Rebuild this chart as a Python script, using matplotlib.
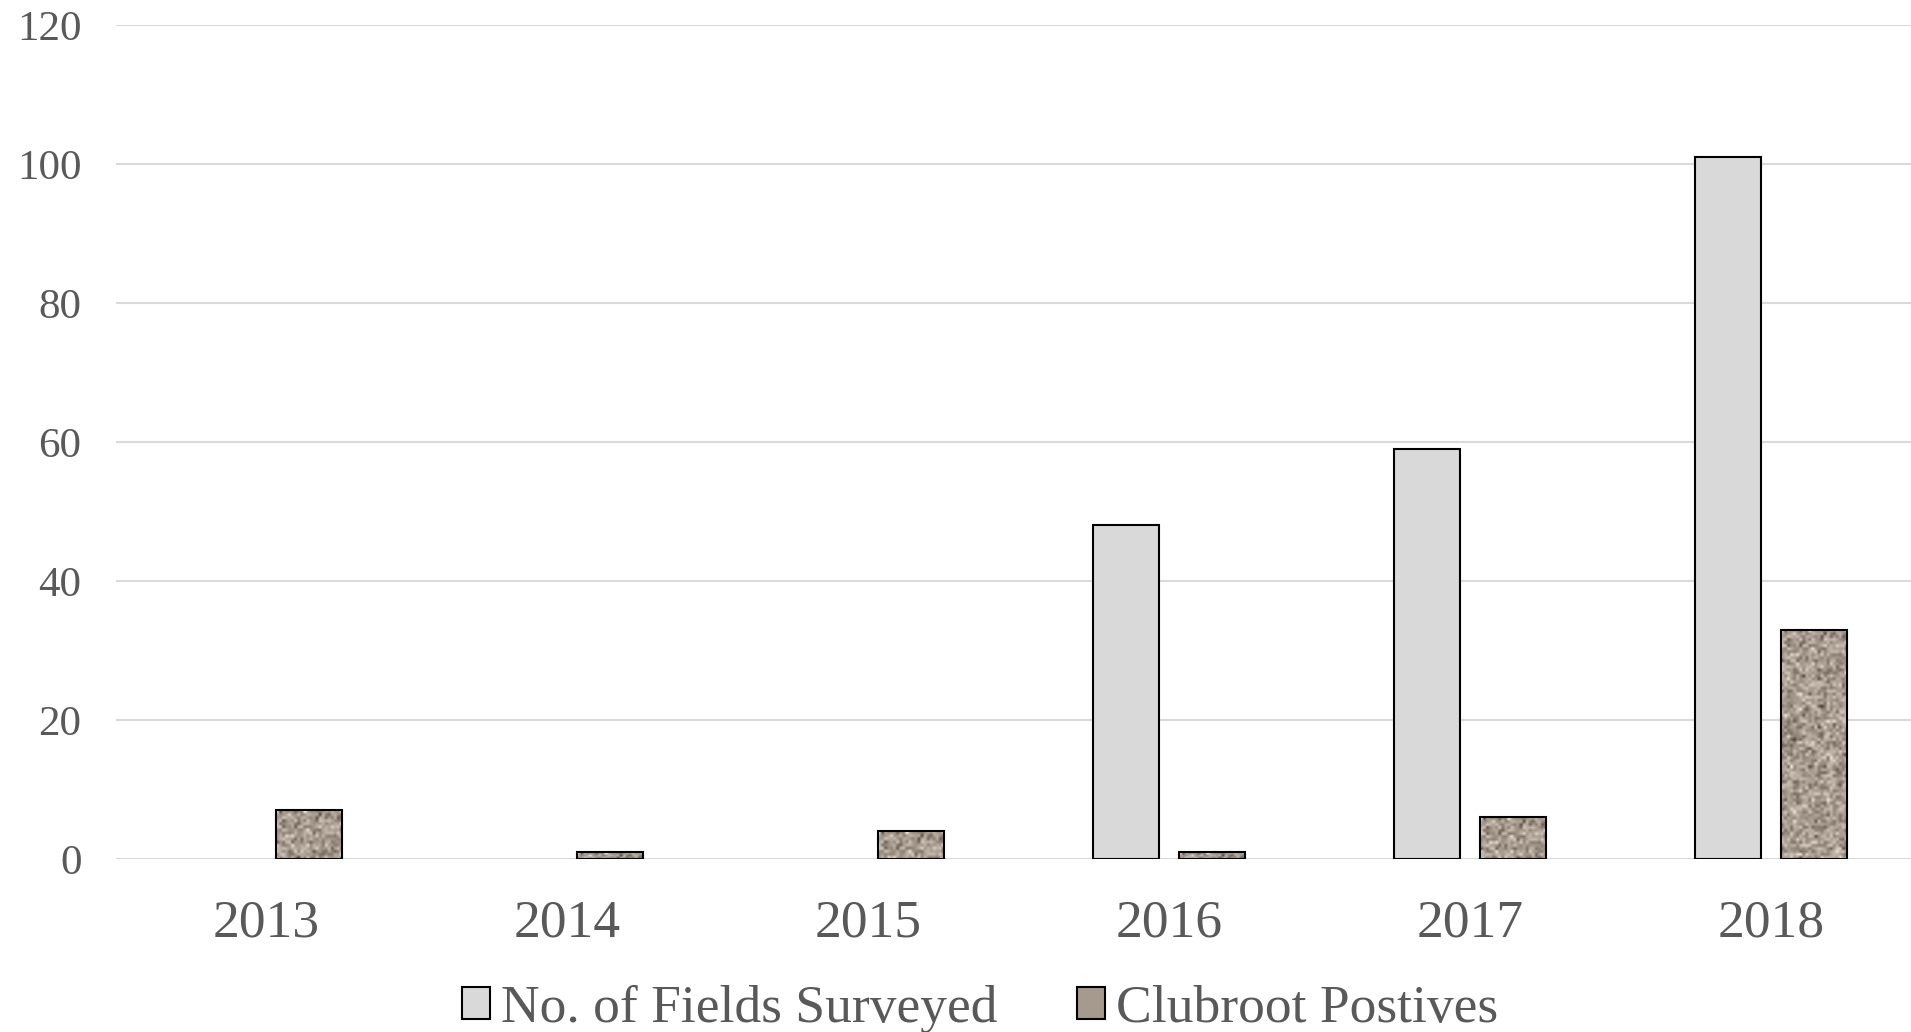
import numpy as np
import matplotlib
matplotlib.use("Agg")
import matplotlib.pyplot as plt
from matplotlib.patches import Patch

years = ["2013", "2014", "2015", "2016", "2017", "2018"]
fields_surveyed = [0, 0, 0, 48, 59, 101]
clubroot_positives = [7, 1, 4, 1, 6, 33]
yticks = [0, 20, 40, 60, 80, 100, 120]

plt.rcParams['font.family'] = ['Liberation Serif', 'DejaVu Serif']
W, H = 1911, 1032
fig = plt.figure(figsize=(W / 100, H / 100), dpi=100)
ax = fig.add_axes([115.5 / W, 1 - 859 / H, 1806 / W, (859 - 25) / H])

x = np.arange(len(years))
bw = 0.22
off = 0.143
b1 = ax.bar(x - off, fields_surveyed, bw, color="#d9d9d9", edgecolor="black",
            linewidth=1.5, zorder=3)
for i, v in enumerate(fields_surveyed):
    if v == 0:
        b1[i].set_visible(False)
b2 = ax.bar(x + off, clubroot_positives, bw, color="#a69a8e", edgecolor="black",
            linewidth=1.5, zorder=3)

# granite-like texture (style only)
rng = np.random.default_rng(3)
noise = rng.normal(0, 1, (300, 22))
base = np.array([166, 154, 142]) / 255.0
tex = np.clip(base[None, None, :] + 0.12 * noise[:, :, None], 0, 1)
for i, rect in enumerate(b2):
    x0, y0 = rect.get_x(), rect.get_y()
    w, h = rect.get_width(), rect.get_height()
    im = ax.imshow(tex[: max(3, int(round(h * 2.3))), :], extent=(x0, x0 + w, y0, y0 + h),
                   aspect="auto", zorder=3.5, interpolation="bilinear")
    im.set_clip_path(rect)
    rect.set_zorder(3.6)
    rect.set_facecolor("none")

ax.set_xlim(-0.5, len(years) - 0.5)
ax.set_ylim(0, 120)
ax.set_yticks(yticks)
ax.set_xticks(x)
ax.set_xticklabels(years)
ax.grid(axis="y", color="#d9d9d9", linewidth=1.5, zorder=0)
for s in ax.spines.values():
    s.set_visible(False)
ax.tick_params(axis="both", length=0, colors="#595959")
ax.tick_params(axis="y", labelsize=31, pad=24.5)
ax.tick_params(axis="x", labelsize=38.5, pad=29)

handles = [Patch(facecolor="#d9d9d9", edgecolor="black", linewidth=1.5),
           Patch(facecolor="#a69a8e", edgecolor="black", linewidth=1.5)]
leg = fig.legend(handles, ["No. of Fields Surveyed", "Clubroot Postives"],
                 loc="center", bbox_to_anchor=(980 / W, 1 - 1009 / H), ncol=2,
                 frameon=False, fontsize=38.5, handlelength=0.52, handleheight=0.52,
                 handletextpad=0.2, columnspacing=1.5, labelcolor="#595959")

fig.savefig("out.png", dpi=100, facecolor="white")
